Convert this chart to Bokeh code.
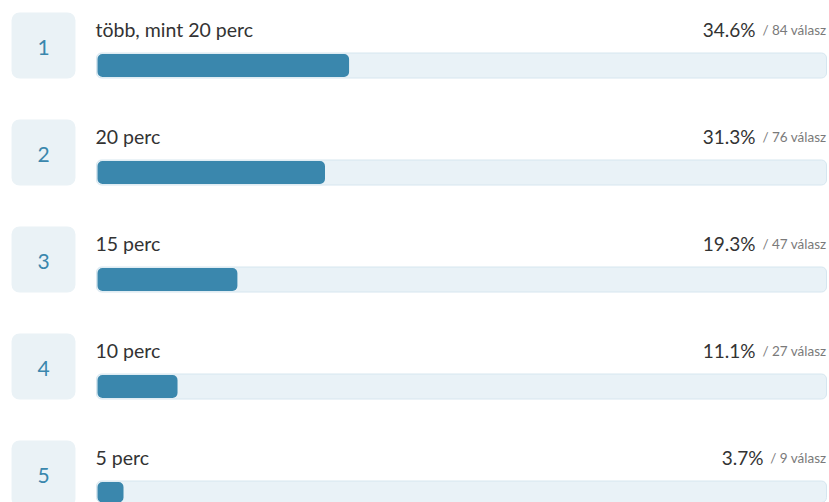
from bokeh.plotting import figure
from bokeh.models import Range1d, ColumnDataSource
from bokeh.core.properties import value
from bokeh.embed import file_html
from bokeh.resources import INLINE

# ---- data ----
ranks = [1, 2, 3, 4, 5]
labels = ["több, mint 20 perc", "20 perc", "15 perc", "10 perc", "5 perc"]
percents = [34.6, 31.3, 19.3, 11.1, 3.7]
counts = [84, 76, 47, 27, 9]

# ---- layout (figure pixel space) ----
W, H = 829, 502
PITCH = 107
TOP = 12
TRACK_X0, TRACK_X1 = 96, 826
FONT = "Lato"

n = len(ranks)
row_top = [TOP + i * PITCH for i in range(n)]
track_w = TRACK_X1 - TRACK_X0

src = ColumnDataSource(dict(
    rank=[str(r) for r in ranks],
    label=labels,
    pct=[f"{v:.1f}%" for v in percents],
    suffix=[f"/ {c} válasz" for c in counts],
    box_y=[t + 33 for t in row_top],
    num_y=[t + 35 for t in row_top],
    label_y=[t + 17 for t in row_top],
    bar_y=[t + 53 for t in row_top],
    bar_right=[TRACK_X0 + track_w * v / 100.0 for v in percents],
    pct_x=[771 - 8 * len(str(c)) for c in counts],
))

p = figure(width=W, height=H, output_backend="svg", toolbar_location=None,
           x_range=Range1d(0, W), y_range=Range1d(H, 0),
           min_border=0, outline_line_color=None)
p.axis.visible = False
p.grid.visible = False
p.background_fill_color = "white"
p.border_fill_color = "white"

# number boxes
p.rect(x=43, y="box_y", width=64, height=66, source=src,
       fill_color="#eaf2f6", line_color=None, border_radius=8)
p.text(x=43, y="num_y", text="rank", source=src, text_align="center",
       text_baseline="middle", text_font=value(FONT), text_font_size="21px",
       text_color="#3a87ad")

# labels
p.text(x=95, y="label_y", text="label", source=src, text_align="left",
       text_baseline="alphabetic", text_font=value(FONT), text_font_size="19.5px",
       text_color="#333333")

# track
p.hbar(y="bar_y", left=TRACK_X0, right=TRACK_X1, height=25, source=src,
       fill_color="#e9f2f7", line_color="#d6e6ef", line_width=1, border_radius=5)
# value bar
p.hbar(y="bar_y", left=TRACK_X0 + 1, right="bar_right", height=23, source=src,
       fill_color="#3a87ad", line_color=None, border_radius=5)

# percentage and count
p.text(x="pct_x", y="label_y", text="pct", source=src, text_align="right",
       text_baseline="alphabetic", text_font=value(FONT), text_font_size="19px",
       text_color="#333333")
p.text(x=826, y="label_y", text="suffix", source=src, text_align="right",
       text_baseline="alphabetic", text_font=value(FONT), text_font_size="13.5px",
       text_color="#7a7a7a")

open("out.html", "w").write(file_html(p, INLINE))
